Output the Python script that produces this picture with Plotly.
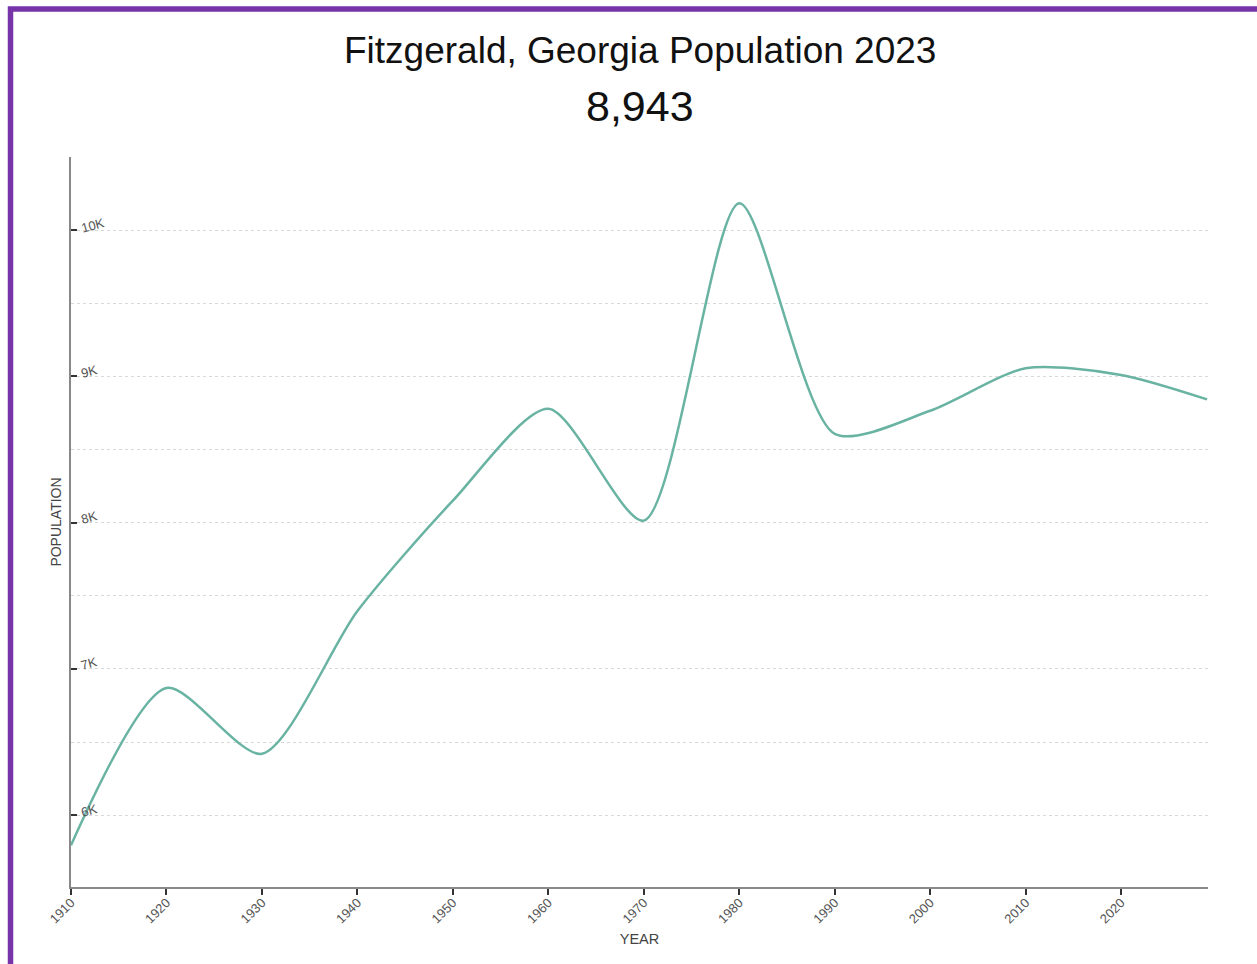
import plotly.graph_objects as go

years = [1910, 1920, 1930, 1940, 1950, 1960, 1970, 1980, 1990, 2000, 2010, 2020, 2029]
population = [5795, 6870, 6420, 7396, 8150, 8778, 8014, 10184, 8607, 8765, 9055, 9010, 8843]

title_text = "Fitzgerald, Georgia Population 2023"
headline_value = "8,943"
y_tick_vals = [6000, 7000, 8000, 9000, 10000]
y_tick_text = ["6K", "7K", "8K", "9K", "10K"]
x_tick_vals = [1910, 1920, 1930, 1940, 1950, 1960, 1970, 1980, 1990, 2000, 2010, 2020]

W, H = 1257, 964
ML, MR, MT, MB = 71, 49, 157, 77
pw = W - ML - MR
ph = H - MT - MB

def px_to_paper_x(px):
    return (px - ML) / pw

def px_to_paper_y(py):
    return (H - MB - py) / ph

FONT = "Liberation Sans, Arial, sans-serif"

fig = go.Figure()
fig.add_trace(go.Scatter(
    x=years, y=population, mode="lines",
    line=dict(color="#69b3a2", width=2.5, shape="spline", smoothing=0.75),
    hoverinfo="x+y", showlegend=False, cliponaxis=False,
))

annotations = [
    dict(text=title_text, x=0.5, y=px_to_paper_y(50), xref="paper", yref="paper",
         showarrow=False, font=dict(size=37, color="#111", family=FONT), xanchor="center", yanchor="middle"),
    dict(text=headline_value, x=0.5, y=px_to_paper_y(106), xref="paper", yref="paper",
         showarrow=False, font=dict(size=43, color="#111", family=FONT), xanchor="center", yanchor="middle"),
]
# y tick labels drawn inside the plot, to the right of the axis
for v, t in zip(y_tick_vals, y_tick_text):
    annotations.append(dict(
        text=t, x=0, xref="paper", y=v, yref="y", xanchor="left", yanchor="middle",
        xshift=6, yshift=5, textangle=-15, showarrow=False,
        font=dict(size=13, color="#555", family=FONT),
    ))

fig.update_layout(
    width=W, height=H,
    margin=dict(l=ML, r=MR, t=MT, b=MB),
    paper_bgcolor="white", plot_bgcolor="white",
    font=dict(family=FONT, color="#333"),
    xaxis=dict(
        range=[1910, 2029.1],
        tickvals=x_tick_vals,
        tickangle=-45,
        ticks="outside", ticklen=6, tickwidth=1.5, tickcolor="#333",
        ticklabelstandoff=-5,
        tickfont=dict(size=13, color="#555", family=FONT),
        showline=True, linecolor="#888", linewidth=2,
        showgrid=False, zeroline=False,
        title=dict(text="YEAR", font=dict(size=14.5, color="#444", family=FONT), standoff=9),
    ),
    yaxis=dict(
        range=[5509, 10500],
        tickvals=y_tick_vals,
        ticks="inside", ticklen=6, tickwidth=1.5, tickcolor="#333",
        showticklabels=False,
        showline=True, linecolor="#888", linewidth=2,
        showgrid=True, gridcolor="#d8d8d8", gridwidth=1, griddash="dot",
        minor=dict(dtick=500, tick0=5500, showgrid=True, gridcolor="#d8d8d8", gridwidth=1, griddash="dot"),
        zeroline=False,
        title=dict(text="POPULATION", font=dict(size=14, color="#444", family=FONT), standoff=4),
    ),
    annotations=annotations,
    shapes=[
        dict(type="rect", xref="paper", yref="paper",
             x0=px_to_paper_x(10.5), x1=px_to_paper_x(W + 40),
             y0=px_to_paper_y(H + 40), y1=px_to_paper_y(9),
             line=dict(color="#7634a8", width=5.5), fillcolor="rgba(0,0,0,0)", layer="above"),
    ],
)

fig.write_html("out.html")
